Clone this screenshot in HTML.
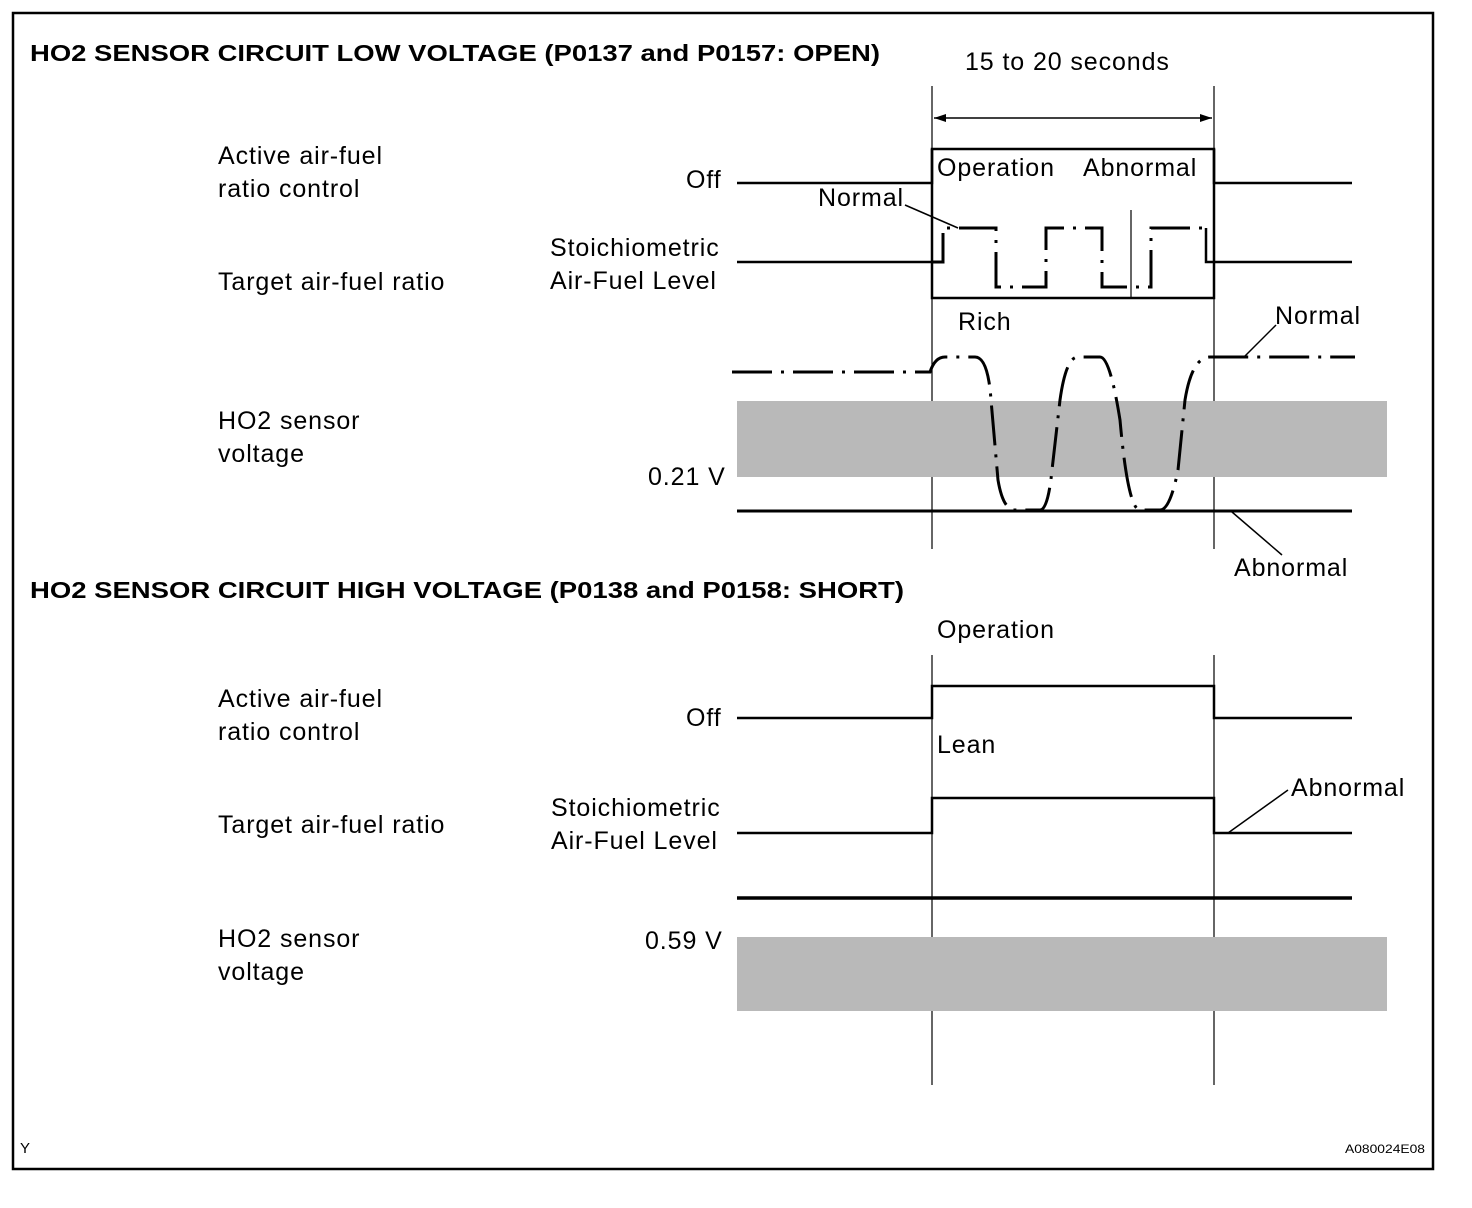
<!DOCTYPE html>
<html><head><meta charset="utf-8"><style>
html,body{margin:0;padding:0;background:#fff;}
svg{display:block;}
text{font-family:"Liberation Sans",Arial,sans-serif;fill:#000;}
</style></head><body>
<svg width="1472" height="1208" viewBox="0 0 1472 1208" xmlns="http://www.w3.org/2000/svg">
<defs>
<marker id="ar" viewBox="0 0 12 8" refX="12" refY="4" markerWidth="12" markerHeight="8" orient="auto-start-reverse" markerUnits="userSpaceOnUse"><path d="M0,0 L12,4 L0,8 Z" fill="#000"/></marker>
</defs>
<rect x="13" y="13" width="1420" height="1156" fill="none" stroke="#000" stroke-width="2.5"/>

<text x="30" y="61" font-size="23" font-weight="bold" textLength="850" lengthAdjust="spacingAndGlyphs">HO2 SENSOR CIRCUIT LOW VOLTAGE (P0137 and P0157: OPEN)</text>
<text x="30" y="598" font-size="23" font-weight="bold" textLength="874" lengthAdjust="spacingAndGlyphs">HO2 SENSOR CIRCUIT HIGH VOLTAGE (P0138 and P0158: SHORT)</text>

<g font-size="25" letter-spacing="0.9">
<text x="965" y="70">15 to 20 seconds</text>
<text x="218" y="164">Active air-fuel</text>
<text x="218" y="197">ratio control</text>
<text x="218" y="290">Target air-fuel ratio</text>
<text x="218" y="429">HO2 sensor</text>
<text x="218" y="462">voltage</text>
<text x="686" y="188">Off</text>
<text x="550" y="256">Stoichiometric</text>
<text x="550" y="289">Air-Fuel Level</text>
<text x="818" y="206">Normal</text>
<text x="937" y="176">Operation</text>
<text x="1083" y="176">Abnormal</text>
<text x="958" y="330">Rich</text>
<text x="1275" y="324">Normal</text>
<text x="648" y="485">0.21 V</text>
<text x="1234" y="576">Abnormal</text>

<text x="937" y="638">Operation</text>
<text x="218" y="707">Active air-fuel</text>
<text x="218" y="740">ratio control</text>
<text x="218" y="833">Target air-fuel ratio</text>
<text x="218" y="947">HO2 sensor</text>
<text x="218" y="980">voltage</text>
<text x="686" y="726">Off</text>
<text x="937" y="753">Lean</text>
<text x="551" y="816">Stoichiometric</text>
<text x="551" y="849">Air-Fuel Level</text>
<text x="1291" y="796">Abnormal</text>
<text x="645" y="949">0.59 V</text>
</g>
<text x="20" y="1153" font-size="15">Y</text>
<text x="1345" y="1153" font-size="12" textLength="80" lengthAdjust="spacingAndGlyphs">A080024E08</text>

<g fill="none" stroke="#000">
<line x1="932" y1="86" x2="932" y2="549" stroke-width="1.2"/>
<line x1="1214" y1="86" x2="1214" y2="549" stroke-width="1.2"/>
<line x1="934" y1="118" x2="1212" y2="118" stroke-width="1.5" marker-start="url(#ar)" marker-end="url(#ar)"/>
<polyline points="737,183 932,183 932,149 1214,149 1214,183 1352,183" stroke-width="2.5"/>
<line x1="737" y1="262" x2="932" y2="262" stroke-width="2.5"/>
<polyline points="932,149 932,298 1214,298 1214,149" stroke-width="2.5"/>
<polyline points="1206,228 1206,262 1352,262" stroke-width="2.5"/>
<line x1="1131" y1="210" x2="1131" y2="298" stroke-width="1.2"/>
<polyline points="932,262 943,262 943,228 996,228 996,287 1046,287 1046,228 1102,228 1102,287 1151,287 1151,228 1206,228" stroke-width="3" stroke-dasharray="40 9 3 9"/>
<line x1="905" y1="205" x2="958" y2="228" stroke-width="1.5"/>

<rect x="737" y="401" width="650" height="76" fill="#b9b9b9" stroke="none"/>
<path d="M732,372 L930,372 Q935,357 945,357 L975,357 Q988,357 991,400 L998,480 Q1003,510 1015,510 L1040,510 Q1048,510 1052,470 L1060,400 Q1066,357 1078,357 L1100,357 Q1110,357 1120,420 Q1128,510 1140,510 L1160,510 Q1170,510 1178,470 L1185,400 Q1192,357 1210,357 L1355,357" stroke-width="3" stroke-dasharray="40 9 3 9"/>
<line x1="737" y1="511" x2="1352" y2="511" stroke-width="3"/>
<line x1="1232" y1="512" x2="1282" y2="555" stroke-width="1.5"/>
<line x1="1276" y1="325" x2="1244" y2="357" stroke-width="1.5"/>

<line x1="932" y1="655" x2="932" y2="1085" stroke-width="1.2"/>
<line x1="1214" y1="655" x2="1214" y2="1085" stroke-width="1.2"/>
<polyline points="737,718 932,718 932,686 1214,686 1214,718 1352,718" stroke-width="2.5"/>
<polyline points="737,833 932,833 932,798 1214,798 1214,833 1352,833" stroke-width="2.5"/>
<line x1="1228" y1="833" x2="1288" y2="790" stroke-width="1.5"/>
<line x1="737" y1="898" x2="1352" y2="898" stroke-width="3.5"/>
<rect x="737" y="937" width="650" height="74" fill="#b9b9b9" stroke="none"/>
</g>
</svg>
</body></html>
